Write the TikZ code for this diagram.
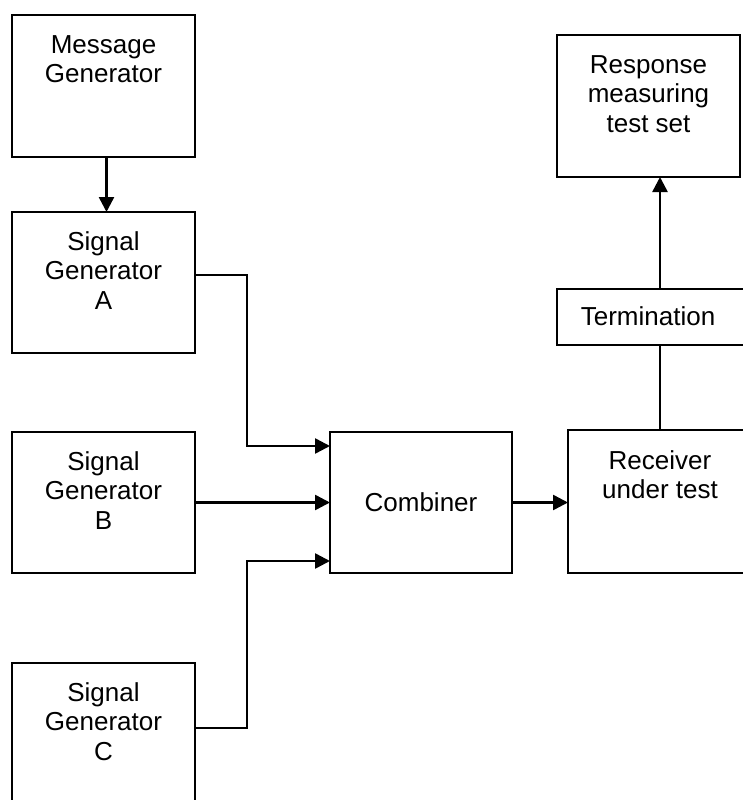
\documentclass[tikz,border=0pt]{standalone}
\usepackage{fontspec}
\setmainfont{Liberation Sans}
\usetikzlibrary{arrows.meta,calc}
\begin{document}
\begin{tikzpicture}[x=1pt,y=-1pt,
  box/.style={draw, line width=2.3pt, inner sep=0pt, outer sep=0pt, anchor=north west},
  lbl/.style={inner sep=0pt, align=center, font=\fontsize{26}{29.5}\selectfont},
  wire/.style={line width=2.5pt},
  conn/.style={line width=2.5pt, -{Triangle[length=15pt,width=15pt]}}]
\useasboundingbox (0,0) rectangle (743,800);
\clip (0,0) rectangle (743,800);
% boxes
\node[box, minimum width=183pt, minimum height=142pt] (mg) at (12,15) {};
\node[box, minimum width=183pt, minimum height=141pt] (a) at (12,212) {};
\node[box, minimum width=183pt, minimum height=141pt] (b) at (12,432) {};
\node[box, minimum width=183pt, minimum height=160pt] (c) at (12,663) {};
\node[box, minimum width=182pt, minimum height=141pt] (comb) at (330,432) {};
\node[box, minimum width=184pt, minimum height=143pt] (recv) at (568,430) {};
\node[box, minimum width=200pt, minimum height=56pt] (term) at (557,289) {};
\node[box, minimum width=183pt, minimum height=142pt] (resp) at (557,35) {};
% labels
\node[lbl, anchor=north] (mgt) at ($(mg.north)+(0,20)$) {Message\\Generator};
\node[lbl, anchor=north] (at) at ($(a.north)+(0,19)$) {Signal\\Generator\\A};
\node[lbl, anchor=north] (bt) at ($(b.north)+(0,19)$) {Signal\\Generator\\B};
\node[lbl, anchor=north] (ct) at ($(c.north)+(0,19)$) {Signal\\Generator\\C};
\node[lbl] (combt) at (comb.center) {Combiner};
\node[lbl, anchor=north] (recvt) at ($(recv.north)+(0,20)$) {Receiver\\under test};
\node[lbl] (termt) at ($(term.west)+(91,-1)$) {Termination};
\node[lbl, anchor=north] (respt) at ($(resp.north)+(0,20)$) {Response\\measuring\\test set};
% connectors
\draw[conn] ($(mg.south)+(3,0)$) -- ($(a.north)+(3,0)$);
\draw[conn] ($(a.north east)+(0,63)$) -- ++(52,0) |- ($(comb.north west)+(0,14)$);
\draw[conn] (b.east) -- (comb.west |- b.east);
\draw[conn] ($(c.north east)+(0,65)$) -- ++(52,0) |- ($(comb.south west)+(0,-12)$);
\draw[conn] (comb.east) -- (comb.east -| recv.west);
\draw[wire] (recv.north) -- (recv.north |- term.south);
\draw[conn] (recv.north |- term.north) -- (recv.north |- resp.south);
\end{tikzpicture}
\end{document}
